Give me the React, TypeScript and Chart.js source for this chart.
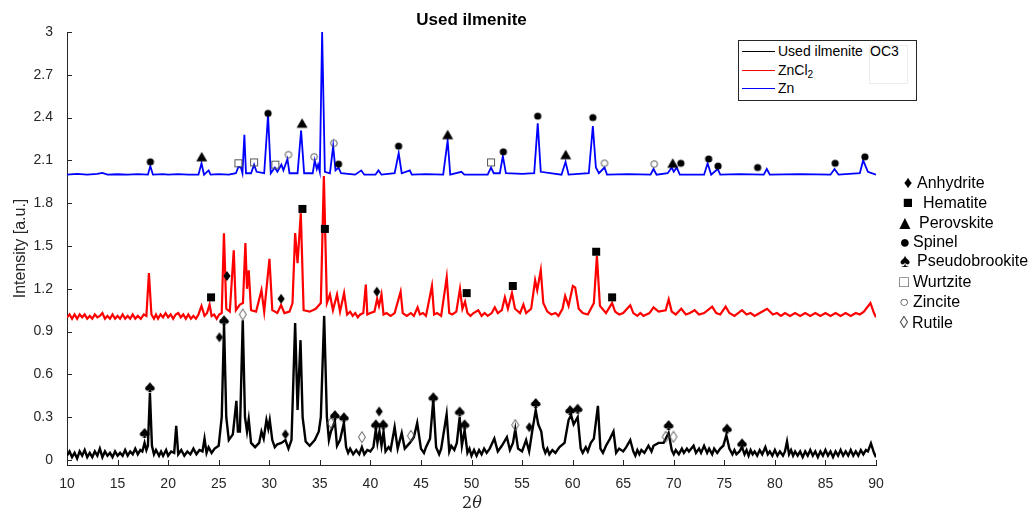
import React, { useEffect, useRef } from 'react';
import { Chart, registerables } from 'chart.js';

Chart.register(...registerables);

type Pt = [number, number];

// ---- axis ticks ----
const xTicks = [10, 15, 20, 25, 30, 35, 40, 45, 50, 55, 60, 65, 70, 75, 80, 85, 90];
const yTicks = [0, 0.3, 0.6, 0.9, 1.2, 1.5, 1.8, 2.1, 2.4, 2.7, 3];
const yTickLabels = ['0', '0.3', '0.6', '0.9', '1.2', '1.5', '1.8', '2.1', '2.4', '2.7', '3'];

// ---- series (2θ, intensity) ----
const seriesNames = ['Used ilmenite', 'ZnCl2', 'Zn'];

const usedIlmenite: Pt[] = [
  [10, 0.03], [10.25, 0.06], [10.5, 0.02], [10.75, 0.05], [11, 0.01], [11.25, 0.06], [11.5, 0.03], [11.75, 0.07], [12, 0.02],
  [12.25, 0.05], [12.5, 0.02], [12.75, 0.06], [13, 0.03], [13.25, 0.08], [13.5, 0.02], [13.75, 0.06], [14, 0.03], [14.25, 0.05],
  [14.5, 0.02], [14.75, 0.06], [15, 0.03], [15.25, 0.05], [15.5, 0.03], [15.75, 0.07], [16, 0.03], [16.25, 0.06], [16.5, 0.04],
  [16.75, 0.08], [17, 0.04], [17.25, 0.07], [17.45, 0.06], [17.67, 0.12], [17.85, 0.07],
  [18.0, 0.1], [18.2, 0.47], [18.4, 0.1], [18.6, 0.04], [18.8, 0.07], [19.1, 0.03], [19.3, 0.06], [19.5, 0.03], [19.8, 0.07],
  [20.0, 0.03], [20.3, 0.06], [20.6, 0.05], [20.8, 0.24], [21.0, 0.04], [21.3, 0.07], [21.6, 0.03], [21.9, 0.06], [22.2, 0.04],
  [22.5, 0.08], [22.8, 0.04], [23.1, 0.07], [23.4, 0.06], [23.6, 0.15], [23.8, 0.05], [24.0, 0.09], [24.3, 0.05], [24.6, 0.08],
  [25.0, 0.1], [25.3, 0.3], [25.53, 0.95], [25.75, 0.3], [26.0, 0.14], [26.4, 0.18], [26.75, 0.415], [26.9, 0.2],
  [27.1, 0.2], [27.38, 0.98], [27.6, 0.3], [27.8, 0.2], [27.97, 0.285], [28.2, 0.12], [28.6, 0.09], [29.0, 0.12], [29.23, 0.2],
  [29.45, 0.15], [29.72, 0.28], [29.9, 0.22], [30.05, 0.28], [30.3, 0.14], [30.55, 0.09], [30.8, 0.11], [31.2, 0.12], [31.6, 0.14], [31.9, 0.08],
  [32.2, 0.14], [32.56, 0.96], [32.8, 0.35], [33.09, 0.84], [33.3, 0.3], [33.6, 0.13], [34.0, 0.1], [34.5, 0.14], [34.9, 0.2],
  [35.1, 0.3], [35.43, 1.01], [35.7, 0.3], [35.9, 0.14], [36.1, 0.2], [36.49, 0.27], [36.7, 0.1], [37.0, 0.14], [37.38, 0.26],
  [37.6, 0.09], [37.8, 0.05], [38.0, 0.08], [38.3, 0.04], [38.6, 0.07], [38.9, 0.04], [39.16, 0.09], [39.4, 0.04], [39.7, 0.07], [40.0, 0.06],
  [40.3, 0.09], [40.54, 0.215], [40.7, 0.12],
  [40.9, 0.2], [41.1, 0.1], [41.3, 0.2], [41.5, 0.06], [41.8, 0.09], [42.0, 0.07], [42.4, 0.23], [42.7, 0.08], [43.1, 0.19], [43.4, 0.08],
  [43.9, 0.12], [44.3, 0.16], [44.63, 0.26], [45.0, 0.08], [45.3, 0.05], [45.5, 0.09], [45.9, 0.15], [46.22, 0.42], [46.5, 0.09], [46.8, 0.04],
  [47.0, 0.08], [47.54, 0.32], [47.8, 0.06], [48.0, 0.1], [48.3, 0.07], [48.55, 0.12], [48.83, 0.3], [49.05, 0.1], [49.32, 0.21],
  [49.6, 0.05], [49.8, 0.08], [50.0, 0.03], [50.25, 0.07], [50.5, 0.03], [50.75, 0.07], [51.0, 0.04], [51.25, 0.08], [51.5, 0.05],
  [51.8, 0.08], [52.26, 0.15], [52.6, 0.06], [53.0, 0.1], [53.5, 0.16], [53.8, 0.07], [54.1, 0.12], [54.33, 0.215], [54.6, 0.08],
  [55.0, 0.06], [55.4, 0.14], [55.7, 0.06], [56.0, 0.2], [56.35, 0.35], [56.6, 0.25], [56.9, 0.2], [57.1, 0.09], [57.3, 0.05], [57.5, 0.08],
  [57.7, 0.04], [58.0, 0.07], [58.3, 0.05], [58.7, 0.09], [59.2, 0.12], [59.6, 0.28], [59.85, 0.315], [60.1, 0.25], [60.5, 0.3],
  [60.8, 0.08], [61.0, 0.05], [61.3, 0.09], [61.5, 0.06], [61.8, 0.12], [62.1, 0.15], [62.5, 0.38], [62.75, 0.08], [63.0, 0.05], [63.3, 0.1],
  [63.7, 0.15], [64.04, 0.2], [64.3, 0.05], [64.6, 0.08], [65.0, 0.06], [65.3, 0.09], [65.7, 0.14], [66.0, 0.06], [66.2, 0.03],
  [66.4, 0.07], [66.6, 0.04], [66.8, 0.07], [67.1, 0.05], [67.5, 0.1], [67.8, 0.06], [68.0, 0.1], [68.5, 0.12], [69.0, 0.12],
  [69.49, 0.19], [69.8, 0.07], [70.0, 0.04], [70.2, 0.07], [70.5, 0.04], [70.8, 0.08], [71.0, 0.05], [71.3, 0.08], [71.5, 0.06],
  [71.96, 0.1], [72.2, 0.05], [72.5, 0.08], [72.7, 0.05], [73.0, 0.1], [73.3, 0.05], [73.5, 0.08], [73.8, 0.04], [74.0, 0.08],
  [74.3, 0.05], [74.6, 0.08], [74.9, 0.1], [75.2, 0.175], [75.5, 0.08], [75.8, 0.04], [76.0, 0.07], [76.2, 0.04], [76.5, 0.06],
  [76.75, 0.09], [77.0, 0.04], [77.2, 0.07], [77.4, 0.03], [77.6, 0.07], [77.8, 0.04], [78.0, 0.06], [78.25, 0.03], [78.5, 0.07],
  [78.75, 0.04], [79.06, 0.09], [79.3, 0.04], [79.5, 0.06], [79.75, 0.03], [80.0, 0.07], [80.25, 0.03], [80.5, 0.06], [80.8, 0.03],
  [81.0, 0.06], [81.2, 0.13], [81.4, 0.04], [81.6, 0.07], [81.8, 0.03], [82.0, 0.06], [82.25, 0.03], [82.5, 0.06], [82.75, 0.02],
  [83.0, 0.06], [83.25, 0.03], [83.5, 0.07], [83.75, 0.03], [84, 0.06], [84.25, 0.02], [84.5, 0.06], [84.75, 0.03], [85, 0.07],
  [85.25, 0.03], [85.5, 0.06], [85.75, 0.02], [86, 0.06], [86.25, 0.03], [86.5, 0.07], [86.75, 0.03], [87, 0.06], [87.25, 0.03],
  [87.5, 0.07], [87.75, 0.03], [88, 0.06], [88.25, 0.03], [88.5, 0.07], [88.75, 0.04], [89.0, 0.07], [89.2, 0.06], [89.5, 0.117],
  [89.8, 0.05], [90, 0.02],
];

const zncl2: Pt[] = [
  [10, 1.0], [10.25, 1.02], [10.5, 0.99], [10.75, 1.02], [11, 0.99], [11.25, 1.02], [11.5, 1.0], [11.75, 1.02], [12, 0.99],
  [12.25, 1.01], [12.5, 0.99], [12.75, 1.02], [13, 1.0], [13.25, 1.01], [13.5, 1.03], [13.75, 0.99], [14, 1.01], [14.25, 0.99],
  [14.5, 1.02], [14.75, 0.99], [15, 1.01], [15.25, 0.99], [15.5, 1.02], [15.75, 0.99], [16, 1.01], [16.25, 0.99], [16.5, 1.02],
  [16.75, 0.99], [17, 1.01], [17.3, 0.99], [17.6, 1.02], [17.85, 1.01], [18.1, 1.31], [18.35, 1.02], [18.6, 0.99], [18.8, 1.02],
  [19, 0.99], [19.25, 1.02], [19.5, 1.0], [19.75, 1.03], [20, 1.0], [20.25, 1.02], [20.5, 0.99], [20.75, 1.02], [21, 1.03],
  [21.25, 1.0], [21.5, 1.02], [21.75, 0.99], [22, 1.02], [22.25, 0.99], [22.5, 1.01], [22.75, 0.99], [23.0, 1.02], [23.3, 1.08],
  [23.6, 1.01], [23.85, 1.03], [24.1, 1.09], [24.3, 1.01], [24.55, 1.02], [24.8, 0.99], [25.05, 1.02], [25.3, 1.03], [25.52, 1.59],
  [25.75, 1.06], [26.1, 1.04], [26.49, 1.47], [26.7, 1.05], [27.1, 1.09],
  [27.4, 1.1], [27.64, 1.52], [27.8, 1.2], [27.97, 1.33], [28.2, 1.05], [28.7, 1.04], [29.23, 1.19], [29.5, 1.04], [30.02, 1.41],
  [30.3, 1.05], [30.8, 1.03], [31.17, 1.086], [31.5, 1.03], [32.0, 1.04], [32.3, 1.1], [32.56, 1.59], [32.8, 1.38], [33.12, 1.73],
  [33.4, 1.05], [34.0, 1.04], [34.6, 1.06], [35.1, 1.1], [35.4, 1.99], [35.7, 1.1], [36.0, 1.16], [36.3, 1.05], [36.7, 1.16],
  [37.0, 1.04], [37.4, 1.17], [37.7, 1.02], [38.0, 1.04], [38.25, 1.01], [38.5, 1.03], [38.75, 1.0], [39.0, 1.02], [39.3, 1.03],
  [39.55, 1.23], [39.7, 1.02], [40.0, 1.03], [40.4, 1.04], [40.67, 1.13],
  [40.85, 1.08], [41.1, 1.16], [41.3, 1.02], [41.6, 1.03], [42.0, 1.01], [42.4, 1.03], [42.99, 1.18], [43.2, 1.03], [43.6, 1.01],
  [44.0, 1.03], [44.3, 1.01], [44.67, 1.07], [44.9, 1.02], [45.2, 1.03],
  [45.5, 1.01], [46.09, 1.22], [46.3, 1.02], [46.6, 1.03], [47.0, 1.01], [47.55, 1.28], [47.8, 1.03], [48.1, 1.02], [48.5, 1.04],
  [48.86, 1.2], [49.1, 1.06], [49.36, 1.11], [49.6, 1.03], [49.9, 1.01], [50.2, 1.03], [50.67, 1.05], [51.0, 1.01], [51.3, 1.03],
  [51.6, 1.01], [52.0, 1.03], [52.3, 1.07], [52.6, 1.03], [53.0, 1.05],
  [53.3, 1.14], [53.6, 1.06], [54.0, 1.17], [54.3, 1.06], [54.8, 1.03], [55.13, 1.09], [55.4, 1.03], [55.9, 1.06], [56.29, 1.26],
  [56.5, 1.19], [56.85, 1.33], [57.1, 1.1], [57.5, 1.04], [57.9, 1.02], [58.3, 1.03], [58.6, 1.01], [59.0, 1.06], [59.26, 1.15],
  [59.6, 1.08], [60.02, 1.22], [60.25, 1.21], [60.6, 1.06], [61.0, 1.03], [61.5, 1.02], [62.1, 1.1], [62.4, 1.43], [62.7, 1.08],
  [63.3, 1.03], [63.9, 1.1], [64.2, 1.04], [64.6, 1.02],
  [65.0, 1.03], [65.7, 1.085], [66.0, 1.03], [66.4, 1.01], [66.7, 1.03], [67.0, 1.01], [67.6, 1.03], [68.0, 1.07], [68.5, 1.04],
  [69.2, 1.05], [69.5, 1.126], [69.8, 1.04], [70.2, 1.02], [70.74, 1.06], [71.2, 1.02], [71.6, 1.03], [72.06, 1.05], [72.5, 1.02],
  [73.0, 1.03], [73.8, 1.075], [74.2, 1.03], [74.6, 1.02], [75.13, 1.075], [75.5, 1.03], [76.0, 1.01], [76.75, 1.05], [77.2, 1.02],
  [77.6, 1.03], [78.0, 1.01], [78.5, 1.03], [79.23, 1.06], [79.8, 1.02], [80.2, 1.03], [80.6, 1.01], [81, 1.03], [81.5, 1.01],
  [82, 1.03], [82.5, 1.01], [83, 1.03], [83.5, 1.01], [84, 1.03], [84.5, 1.01], [85, 1.03], [85.5, 1.01], [86, 1.03], [86.5, 1.01],
  [87, 1.03], [87.5, 1.01], [88, 1.03], [88.4, 1.02], [88.8, 1.04], [89.45, 1.1], [89.8, 1.03], [90, 1.0],
];

const zn: Pt[] = [
  [10, 2.0], [11, 2.005], [12, 2.0], [13, 2.005], [13.5, 2.012], [14, 2.0], [15, 2.003], [16, 2.0], [17, 2.004], [18.0, 2.0],
  [18.24, 2.06], [18.5, 2.0], [19.5, 2.004], [20, 2.0], [21, 2.004], [22, 2.0],
  [23.0, 2.0], [23.3, 2.08], [23.55, 2.0], [24.0, 2.03], [24.2, 2.0], [25, 2.004], [26.0, 2.0], [26.7, 2.01], [26.95, 2.055], [27.2, 2.05],
  [27.35, 2.01], [27.54, 2.28], [27.7, 2.01], [28.2, 2.01], [28.5, 2.07], [28.75, 2.02], [29.5, 2.01], [29.88, 2.42], [30.15, 2.01],
  [30.55, 2.05], [30.8, 2.02], [31.2, 2.07], [31.4, 2.03], [31.8, 2.11], [32.0, 2.01], [32.8, 2.01], [33.15, 2.31], [33.45, 2.01],
  [34.3, 2.01], [34.5, 2.1], [34.7, 2.04], [34.83, 2.07], [35.0, 2.02], [35.23, 3.0], [35.5, 2.02], [36.0, 2.01], [36.32, 2.2],
  [36.55, 2.03], [36.85, 2.05], [37.1, 2.01], [38.5, 2.0], [39.1, 2.03], [39.4, 2.0], [40.5, 2.0], [40.8, 2.03], [41.1, 2.0],
  [42.4, 2.01], [42.8, 2.15], [43.1, 2.01], [43.9, 2.03], [44.1, 2.0], [45.5, 2.004], [47.2, 2.0], [47.64, 2.24], [47.9, 2.0], [49.0, 2.02],
  [49.3, 2.0], [51.6, 2.0], [51.93, 2.05], [52.2, 2.01], [52.8, 2.01], [53.1, 2.13], [53.4, 2.01], [55.0, 2.005], [56.2, 2.01], [56.55, 2.36],
  [56.85, 2.02], [58.9, 2.0], [59.3, 2.09], [59.6, 2.0], [61.6, 2.01], [62.0, 2.34], [62.3, 2.05], [62.6, 2.01], [63.15, 2.05],
  [63.4, 2.0], [65.5, 2.004], [67.7, 2.0], [68.0, 2.04], [68.3, 2.0], [69.4, 2.01], [69.8, 2.05], [70.0, 2.02], [70.3, 2.05], [70.6, 2.0],
  [73.0, 2.0], [73.35, 2.08], [73.7, 2.0], [74.34, 2.04], [74.6, 2.0], [76.5, 2.004], [78.9, 2.0], [79.2, 2.04], [79.5, 2.0], [82.5, 2.004],
  [85.5, 2.0], [85.9, 2.04], [86.3, 2.0], [88.4, 2.01], [88.73, 2.1], [89.2, 2.02], [90, 2.0],
];

// ---- phase markers (2θ, position) ----
const phaseNames = ['Anhydrite', 'Hematite', 'Perovskite', 'Spinel', 'Pseudobrookite', 'Wurtzite', 'Zincite', 'Rutile'];

const anhydrite: Pt[] = [[25.07, 0.86], [31.6, 0.18], [40.87, 0.34], [55.72, 0.23], [25.82, 1.29], [31.17, 1.13], [40.64, 1.18]];
const hematite: Pt[] = [[24.24, 1.14], [33.28, 1.76], [35.5, 1.62], [49.52, 1.17], [54.08, 1.22], [62.33, 1.46], [63.9, 1.14]];
const perovskite: Pt[] = [[23.32, 2.125], [33.25, 2.36], [47.64, 2.28], [59.32, 2.14], [69.9, 2.08]];
const spinel: Pt[] = [
  [18.24, 2.09], [29.88, 2.43], [35.27, 3.065], [36.85, 2.074], [42.79, 2.2], [53.15, 2.16], [56.55, 2.41], [62.0, 2.4],
  [70.7, 2.08], [73.45, 2.11], [74.38, 2.06], [78.3, 2.05], [85.96, 2.08], [88.9, 2.125],
];
const pseudobrookite: Pt[] = [
  [17.67, 0.19], [18.2, 0.51], [25.53, 0.98], [36.49, 0.315], [37.38, 0.3], [40.54, 0.25], [41.27, 0.25], [46.22, 0.44],
  [48.83, 0.34], [49.32, 0.25], [56.35, 0.4], [59.75, 0.35], [60.5, 0.36], [69.49, 0.245], [75.27, 0.22], [76.75, 0.117],
];
const wurtzite: Pt[] = [[26.95, 2.08], [28.5, 2.086], [30.6, 2.07], [51.93, 2.086]];
const zincite: Pt[] = [[31.9, 2.14], [34.44, 2.125], [36.39, 2.22], [63.15, 2.08], [68.07, 2.074]];
const rutile: Pt[] = [[27.38, 1.02], [36.09, 0.26], [39.16, 0.16], [44.0, 0.17], [54.33, 0.245], [69.2, 0.163], [69.97, 0.163]];

const FONT = '"Liberation Sans", Arial, Helvetica, sans-serif';
const AX = '#262626';

function makeGlyph(kind: string): HTMLCanvasElement {
  const c = document.createElement('canvas');
  const s = 14;
  c.width = s;
  c.height = s;
  const g = c.getContext('2d') as CanvasRenderingContext2D;
  const m = s / 2;
  g.fillStyle = '#000';
  g.strokeStyle = '#555';
  g.lineWidth = 1;
  g.beginPath();
  switch (kind) {
    case 'diamond':
      g.moveTo(m, m - 5); g.lineTo(m + 3.6, m); g.lineTo(m, m + 5); g.lineTo(m - 3.6, m); g.closePath(); g.fill();
      break;
    case 'square':
      g.fillRect(m - 4, m - 4, 8, 8);
      break;
    case 'triangle':
      g.moveTo(m, m - 5); g.lineTo(m + 5.5, m + 4.5); g.lineTo(m - 5.5, m + 4.5); g.closePath(); g.fill();
      break;
    case 'circle':
      g.arc(m, m, 3.6, 0, Math.PI * 2); g.fill();
      break;
    case 'spade':
      g.moveTo(m, m - 5); g.lineTo(m + 4.6, m + 0.6); g.lineTo(m - 4.6, m + 0.6); g.closePath(); g.fill();
      g.beginPath(); g.arc(m - 2.3, m + 1.2, 2.4, 0, Math.PI * 2); g.fill();
      g.beginPath(); g.arc(m + 2.3, m + 1.2, 2.4, 0, Math.PI * 2); g.fill();
      g.beginPath(); g.moveTo(m, m + 1); g.lineTo(m + 1.8, m + 5); g.lineTo(m - 1.8, m + 5); g.closePath(); g.fill();
      break;
    case 'osquare':
      g.strokeRect(m - 3.5, m - 3.5, 7, 7);
      break;
    case 'ocircle':
      g.arc(m, m, 3.3, 0, Math.PI * 2); g.stroke();
      break;
    case 'odiamond':
      g.moveTo(m, m - 5.5); g.lineTo(m + 3.5, m); g.lineTo(m, m + 5.5); g.lineTo(m - 3.5, m); g.closePath(); g.stroke();
      break;
  }
  return c;
}

const inwardTicks = {
  id: 'inwardTicks',
  afterDatasetsDraw(chart: any) {
    const { ctx, chartArea, scales } = chart;
    ctx.save();
    ctx.strokeStyle = AX;
    ctx.lineWidth = 1;
    ctx.beginPath();
    for (const v of xTicks) {
      const px = Math.round(scales.x.getPixelForValue(v)) + 0.5;
      ctx.moveTo(px, chartArea.bottom);
      ctx.lineTo(px, chartArea.bottom - 5);
    }
    for (const v of yTicks) {
      const py = Math.round(scales.y.getPixelForValue(v)) + 0.5;
      ctx.moveTo(chartArea.left, py);
      ctx.lineTo(chartArea.left + 5, py);
    }
    ctx.stroke();
    ctx.restore();
  },
};

const toXY = (a: Pt[]) => a.map(([x, y]) => ({ x, y }));

export default function App() {
  const ref = useRef<HTMLCanvasElement | null>(null);

  useEffect(() => {
    if (!ref.current) return;
    const markerSets: [Pt[], string][] = [
      [anhydrite, 'diamond'], [hematite, 'square'], [perovskite, 'triangle'], [spinel, 'circle'],
      [pseudobrookite, 'spade'], [wurtzite, 'osquare'], [zincite, 'ocircle'], [rutile, 'odiamond'],
    ];
    const markerDatasets = markerSets.map(([pts, kind], i) => ({
      label: phaseNames[i],
      data: toXY(pts),
      showLine: false,
      pointStyle: makeGlyph(kind),
      pointRadius: 5,
      pointHoverRadius: 5,
      clip: false as any,
      order: 0,
    }));
    const lineSets: [Pt[], string, number, number][] = [
      [usedIlmenite, '#000000', 2.4, 3],
      [zncl2, '#ff0000', 2.2, 2],
      [zn, '#0000ff', 1.8, 1],
    ];
    const lineDatasets = lineSets.map(([pts, color, w, order], i) => ({
      label: seriesNames[i],
      data: toXY(pts),
      showLine: true,
      borderColor: color,
      backgroundColor: color,
      borderWidth: w,
      pointRadius: 0,
      tension: 0,
      borderJoinStyle: 'miter' as const,
      order,
    }));

    const chart = new Chart(ref.current, {
      type: 'scatter',
      data: { datasets: [...lineDatasets, ...markerDatasets] as any },
      plugins: [inwardTicks],
      options: {
        animation: false,
        responsive: false,
        events: [],
        layout: { padding: { left: 0, right: 156, top: 32, bottom: 0 } },
        plugins: { legend: { display: false }, tooltip: { enabled: false }, title: { display: false } },
        scales: {
          x: {
            type: 'linear',
            min: 10,
            max: 90,
            afterFit: (s: any) => { s.height = 47; },
            afterBuildTicks: (s: any) => { s.ticks = xTicks.map((v) => ({ value: v })); },
            ticks: {
              padding: 3,
              color: AX,
              font: { family: FONT, size: 14 },
              maxRotation: 0,
              autoSkip: false,
              callback: (v: any) => String(v),
            },
            grid: { display: false },
            border: { display: true, color: AX, width: 1 },
          },
          y: {
            type: 'linear',
            min: -0.035,
            max: 3,
            afterFit: (s: any) => { s.width = 67; },
            afterBuildTicks: (s: any) => { s.ticks = yTicks.map((v) => ({ value: v })); },
            ticks: {
              padding: 6,
              color: AX,
              font: { family: FONT, size: 14 },
              autoSkip: false,
              callback: (_v: any, i: number) => yTickLabels[i],
            },
            grid: { display: false },
            border: { display: true, color: AX, width: 1 },
            title: {
              display: true,
              text: 'Intensity [a.u.]',
              color: AX,
              font: { family: FONT, size: 16 },
              padding: { top: 11, bottom: 0 },
            },
          },
        },
      },
    });
    return () => chart.destroy();
  }, []);

  const legendGlyphs = ['♦', '■', '▲', '●', '♠', '□', '○', '◊'];
  const glyphSize = [17, 17, 19, 18, 19, 16, 16, 17];
  const glyphX = [908, 908, 905, 905, 905, 904, 904, 904];
  const textX = [917, 923, 919, 913, 917, 913, 913, 912];
  const rowY = [183, 203, 223, 242, 261, 282, 302, 323];
  const glyphColor = ['#000', '#000', '#000', '#000', '#000', '#444', '#444', '#444'];

  const lineColors = ['#000000', '#ff0000', '#0000ff'];

  return (
    <div style={{ position: 'absolute', left: 0, top: 0, width: 1032, height: 512, background: '#fff', fontFamily: FONT, overflow: 'hidden' }}>
      <canvas ref={ref} width={1032} height={512} style={{ display: 'block', position: 'absolute', left: 0, top: 0 }} />
      {/* title */}
      <div style={{ position: 'absolute', left: 0, width: 943, top: 10, lineHeight: '20px', textAlign: 'center', fontWeight: 'bold', fontSize: 17, color: '#000' }}>
        Used ilmenite
      </div>
      {/* x axis title */}
      <div style={{ position: 'absolute', left: 422, width: 100, top: 493, lineHeight: '20px', textAlign: 'center', fontFamily: '"DejaVu Serif", "Liberation Serif", serif', fontSize: 16, color: AX }}>
        2<i>θ</i>
      </div>
      {/* series legend */}
      <div style={{ position: 'absolute', left: 738, top: 40, width: 177, height: 59, border: `1px solid ${AX}`, background: '#fff' }}>
        <div style={{ position: 'absolute', left: 130, top: 4, width: 37, height: 37, border: '1px solid #ececec' }} />
        {seriesNames.map((n, i) => (
          <div key={n} style={{ position: 'absolute', left: 0, top: [1, 19.5, 38][i], height: 19, width: 175 }}>
            <div style={{ position: 'absolute', left: 3, top: 9, width: 33, height: 0, borderTop: `1px solid ${lineColors[i]}` }} />
            <div style={{ position: 'absolute', left: 39, top: 0, lineHeight: '19px', fontSize: 14, color: '#000', whiteSpace: 'nowrap' }}>
              {i === 1 ? (<span>ZnCl<sub style={{ fontSize: 10, verticalAlign: '-3px' }}>2</sub></span>) : n}
            </div>
          </div>
        ))}
        <div style={{ position: 'absolute', left: 131, top: 1, lineHeight: '19px', fontSize: 14, color: '#000' }}>OC3</div>
      </div>
      {/* phase legend */}
      {phaseNames.map((n, i) => (
        <React.Fragment key={n}>
          <div style={{ position: 'absolute', left: glyphX[i] - 10, width: 20, top: rowY[i] - 10, lineHeight: '20px', textAlign: 'center', fontSize: glyphSize[i], color: glyphColor[i] }}>
            {legendGlyphs[i]}
          </div>
          <div style={{ position: 'absolute', left: textX[i], top: rowY[i] - 10, lineHeight: '20px', fontSize: 16, color: '#000', whiteSpace: 'nowrap' }}>
            {n}
          </div>
        </React.Fragment>
      ))}
    </div>
  );
}
